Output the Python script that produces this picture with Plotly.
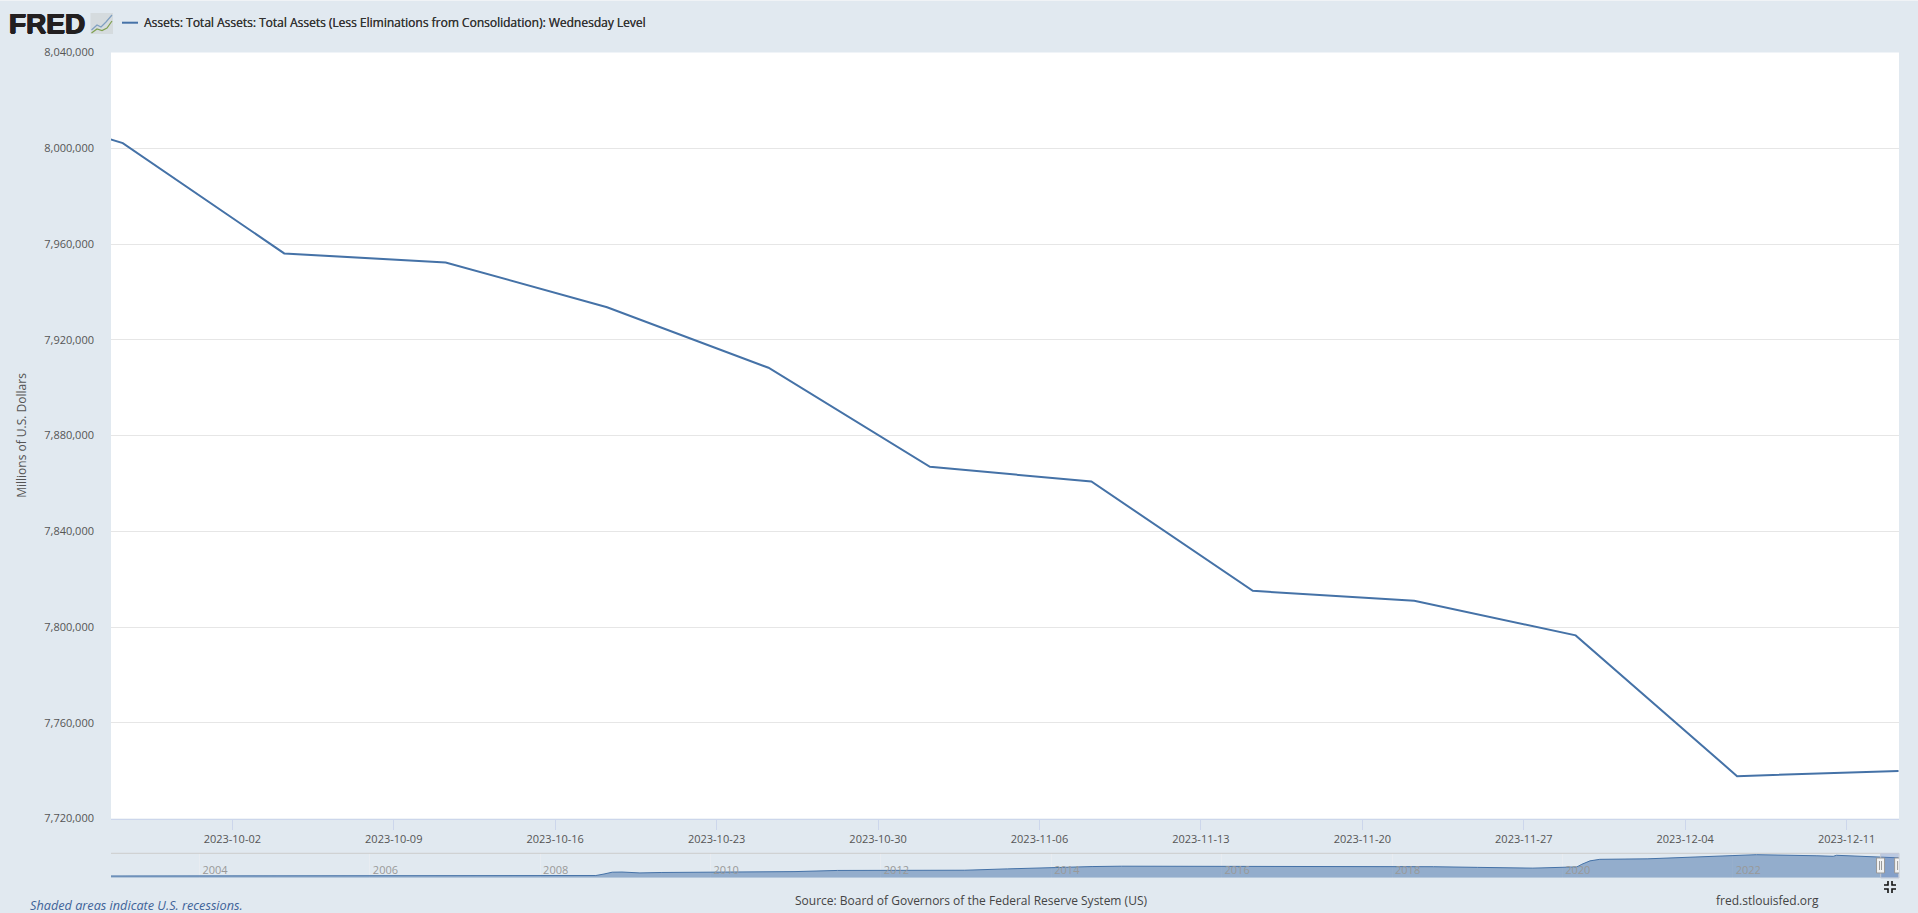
import plotly.graph_objects as go

W, H = 1918, 913

# ---- data ----
week_dates = ["2023-09-20 06:00", "2023-09-27 06:00", "2023-10-04 06:00", "2023-10-11 06:00",
              "2023-10-18 06:00", "2023-10-25 06:00", "2023-11-01 06:00", "2023-11-08 06:00",
              "2023-11-15 06:00", "2023-11-22 06:00", "2023-11-29 06:00", "2023-12-06 06:00",
              "2023-12-13 06:00"]
total_assets = [8022850, 8002130, 7956060, 7952260, 7933600, 7908300, 7866900, 7860800,
                7815100, 7811000, 7796500, 7737700, 7739800]

nav_dates = ["2002-12-18", "2004-01-07", "2005-01-05", "2006-01-04", "2007-01-03", "2008-01-02",
             "2008-08-27", "2008-10-01", "2008-11-05", "2008-12-17", "2009-03-04", "2009-06-03",
             "2009-09-02", "2009-12-30", "2010-06-02", "2010-12-29", "2011-06-29", "2011-12-28",
             "2012-06-27", "2012-12-26", "2013-06-26", "2013-12-25", "2014-06-25", "2014-10-29",
             "2015-06-24", "2016-06-29", "2017-06-28", "2018-01-03", "2018-06-27", "2019-01-02",
             "2019-08-28", "2020-03-04", "2020-03-25", "2020-04-29", "2020-06-10", "2020-12-30",
             "2021-06-30", "2021-12-29", "2022-04-13", "2022-12-28", "2023-03-08", "2023-03-22",
             "2023-06-28", "2023-09-27", "2023-12-13"]
nav_values = [719000, 750000, 770000, 830000, 860000, 890000,
              905000, 1480000, 2190000, 2250000, 1910000, 2070000,
              2130000, 2240000, 2340000, 2420000, 2870000, 2930000,
              2870000, 2950000, 3470000, 4030000, 4370000, 4510000,
              4490000, 4470000, 4500000, 4440000, 4310000, 4060000,
              3760000, 4240000, 5250000, 6570000, 7170000, 7360000,
              8070000, 8760000, 8960000, 8550000, 8340000, 8730000,
              8340000, 8000000, 7739800]

y_ticks = [7720000, 7760000, 7800000, 7840000, 7880000, 7920000, 7960000, 8000000, 8040000]
series_name = "Assets: Total Assets: Total Assets (Less Eliminations from Consolidation): Wednesday Level"
y_title = "Millions of U.S. Dollars"
source_text = "Source: Board of Governors of the Federal Reserve System (US)"
recession_text = "Shaded areas indicate U.S. recessions."
site_text = "fred.stlouisfed.org"
view_start = "2023-09-26 17:44"
view_end = "2023-12-13 06:30"

BG = "#e1e9f0"
BLUE = "#4572a7"
FONT = "Open Sans"


def px(x):
    return x / W


def py(y):
    return 1 - y / H


fig = go.Figure()
fig.add_trace(go.Scatter(x=week_dates, y=total_assets, mode="lines", name=series_name,
                         line=dict(color=BLUE, width=2), xaxis="x", yaxis="y",
                         showlegend=False, hoverinfo="x+y"))
fig.add_trace(go.Scatter(x=nav_dates, y=nav_values, mode="lines", name="navigator",
                         line=dict(color=BLUE, width=1), fill="tozeroy",
                         fillcolor="rgba(69,114,167,0.5)", xaxis="x2", yaxis="y2",
                         showlegend=False, hoverinfo="skip"))

shapes = []
annotations = []


def frame(x0, y0, x1, y1, **kw):
    shapes.append(dict(type="rect", xref="paper", yref="paper", x0=px(x0), x1=px(x1),
                       y0=py(y1), y1=py(y0), **kw))


def hline(x0, x1, y, color, width=1):
    shapes.append(dict(type="line", xref="paper", yref="paper", x0=px(x0), x1=px(x1),
                       y0=py(y), y1=py(y), line=dict(color=color, width=width)))


def vline(x, y0, y1, color, width=1):
    shapes.append(dict(type="line", xref="paper", yref="paper", x0=px(x), x1=px(x),
                       y0=py(y0), y1=py(y1), line=dict(color=color, width=width)))


def path(d_points, color, width=1.0):
    d = "M " + " L ".join(f"{px(a):.6f},{py(b):.6f}" for a, b in d_points)
    shapes.append(dict(type="path", xref="paper", yref="paper", path=d, line=dict(color=color, width=width)))


def label(text, x, y, size, color, anchor="left", family=FONT, shadow=None):
    font = dict(family=family, size=size, color=color)
    if shadow:
        font["shadow"] = shadow
    annotations.append(dict(text=text, xref="paper", yref="paper", x=px(x), y=py(y), showarrow=False,
                            xanchor=anchor, yanchor="middle", align=anchor, font=font, borderpad=0))


# white plotting area of the main chart (navigator stays on the page colour)
shapes.append(dict(type="rect", xref="x domain", yref="y domain", x0=0, x1=1, y0=0, y1=1,
                   fillcolor="#ffffff", line=dict(width=0), layer="below"))

# chart border
hline(0, W, 0.5, "#f0f3f6")

# legend swatch and text
hline(122, 138, 22.7, BLUE, 2)
label(series_name, 143, 22.5, 12, "#333333", shadow="0.25px 0 0 #333333")

# logo
label("<b>FRED</b>", 8, 23.5, 28, "#231f20", family="Liberation Sans",
      shadow="0.7px 0 0 #231f20, -0.7px 0 0 #231f20, 0 0.5px 0 #231f20, 0 -0.5px 0 #231f20")
frame(90.5, 13, 113, 34, fillcolor="#d5dbde", line=dict(width=0))
path([(91.5, 30), (97, 25), (101, 27), (106, 22), (112, 15)], "#7f9fc0", 1.2)
path([(91.5, 33), (97, 29), (102, 30.5), (107, 28), (112, 21)], "#7fa050", 1.2)

# navigator frame, selection and handles
SEL = "rgba(102,133,194,0.3)"
shapes.append(dict(type="rect", xref="x2", yref="paper", x0=view_start, x1=view_end,
                   y0=py(878), y1=py(853.3), fillcolor=SEL, line=dict(width=0), layer="above"))
hline(111, 1880.7, 853.3, "#cccccc")
hline(1880.7, 1899, 853.3, "#c4c9d6")
vline(1880.7, 853.3, 878, "#c4c9d6")
vline(1899, 853.3, 878, "#c4c9d6")
hline(1880.7, 1899, 878, "#c4c9d6")
for when in (view_start, view_end):
    shapes.append(dict(type="rect", xref="x2", yref="paper", xsizemode="pixel", xanchor=when,
                       x0=-4, x1=4, y0=py(873), y1=py(858), fillcolor="#f2f2f2",
                       line=dict(color="#999999", width=1)))
    for off in (-1, 1):
        shapes.append(dict(type="line", xref="x2", yref="paper", xsizemode="pixel", xanchor=when,
                           x0=off, x1=off, y0=py(870), y1=py(861), line=dict(color="#999999", width=1)))

# full-screen glyph
cx, cy, a, b = 1890, 887, 6, 2
for sx in (-1, 1):
    for sy in (-1, 1):
        path([(cx + sx * a, cy + sy * b), (cx + sx * b, cy + sy * b), (cx + sx * b, cy + sy * a)],
             "#111111", 1.6)

# footer
label(f"<i>{recession_text}</i>", 29, 905, 12.7, "#3e6399")
label(source_text, 794, 900.5, 12, "#444444")
label(site_text, 1715, 900.5, 12, "#444444")

fig.update_layout(
    width=W, height=H, autosize=False,
    margin=dict(l=0, r=0, t=0, b=0, pad=0, autoexpand=False),
    paper_bgcolor=BG, plot_bgcolor=BG,
    font=dict(family=FONT, size=11, color="#555555"),
    showlegend=False,
    shapes=shapes, annotations=annotations,
    xaxis=dict(domain=[px(111), px(1899)], anchor="y", type="date", range=[view_start, view_end],
               tick0="2023-10-02", dtick=7 * 86400000, tickformat="%Y-%m-%d", ticks="outside",
               ticklen=10, tickcolor="#ccd6eb", tickwidth=1, showline=True, linecolor="#ccd6eb",
               linewidth=1, showgrid=False, zeroline=False,
               tickfont=dict(family=FONT, size=11, color="#555555")),
    yaxis=dict(domain=[py(818.5), py(52.5)], anchor="x", range=[7720000, 8040000],
               tickvals=y_ticks, tickformat=",d", showgrid=True, gridcolor="#e6e6e6", gridwidth=1,
               zeroline=False, showline=False, ticks="", ticklabelstandoff=16,
               tickfont=dict(family=FONT, size=11, color="#555555"),
               title=dict(text=y_title, font=dict(family=FONT, size=12, color="#555555"), standoff=15)),
    xaxis2=dict(domain=[px(111), px(1899)], anchor="free", position=py(881.7), type="date",
                range=["2002-12-18", "2023-12-15"], tick0="2004-01-01", dtick="M24", tickformat="%Y",
                ticklabelposition="inside right", ticklabelshift=3, ticks="", showgrid=True,
                gridcolor="#e8ecf1", gridwidth=1, showline=False, zeroline=False,
                tickfont=dict(family=FONT, size=11, color="#999999")),
    yaxis2=dict(domain=[py(877.7), py(853.3)], anchor="x2", range=[60000, 9500000], visible=False,
                fixedrange=True),
)

fig.write_html("out.html", config=dict(displayModeBar=False),
               post_script="document.body.style.margin='0';document.documentElement.style.overflow='hidden';window.dispatchEvent(new Event('resize'));")
